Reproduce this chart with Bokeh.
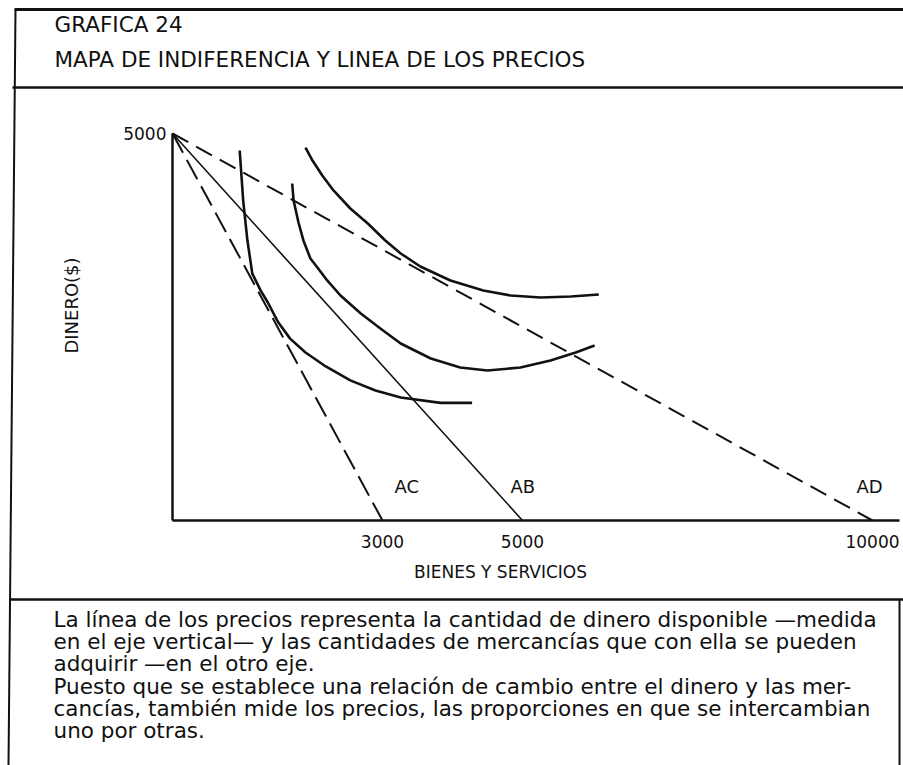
import math
from bokeh.plotting import figure
from bokeh.models import Range1d, LinearAxis, FixedTicker
from bokeh.core.properties import value
from bokeh.embed import file_html
from bokeh.resources import INLINE

# ---------------- data ----------------
budget_names = ["AC", "AB", "AD"]
budget_money = [5000, 5000, 5000]          # intercept on the money axis
budget_goods = [3000, 5000, 10000]         # intercept on the goods axis
budget_dash = ["22 8", "solid", "18 9"]

x_ticks = [3000, 5000, 10000]
y_ticks = [5000]

# indifference curves (goods, money)
curve1_x = [960, 1010, 1070, 1140, 1260, 1360, 1510, 1680, 1900, 2190, 2540, 2900, 3260, 3830, 4280]
curve1_y = [4780, 4130, 3620, 3190, 2970, 2820, 2560, 2350, 2170, 1990, 1810, 1680, 1590, 1520, 1520]

curve2_x = [1710, 1730, 1800, 1870, 1970, 2070, 2210, 2400, 2690, 2970, 3260, 3690, 4110, 4500, 4970, 5400, 5760, 6030]
curve2_y = [4354, 4134, 3850, 3618, 3385, 3269, 3101, 2907, 2674, 2481, 2287, 2093, 1977, 1938, 1977, 2067, 2171, 2261]

curve3_x = [1900, 2000, 2140, 2300, 2540, 2790, 3040, 3260, 3540, 3970, 4440, 4830, 5260, 5690, 6090]
curve3_y = [4819, 4651, 4457, 4264, 4031, 3837, 3618, 3450, 3282, 3101, 2972, 2907, 2881, 2894, 2920]

title_lines = ["GRAFICA 24", "MAPA DE INDIFERENCIA Y LINEA DE LOS PRECIOS"]
note_lines = [
    "La línea de los precios representa la cantidad de dinero disponible —medida",
    "en el eje vertical— y las cantidades de mercancías que con ella se pueden",
    "adquirir —en el otro eje.",
    "Puesto que se establece una relación de cambio entre el dinero y las mer-",
    "cancías, también mide los precios, las proporciones en que se intercambian",
    "uno por otras.",
]
x_label = "BIENES Y SERVICIOS"
y_label = "DINERO($)"

# ---------------- layout ----------------
W, H = 903, 765
ORIGIN_PX, ORIGIN_PY = 172, 520      # page pixels of (0, 0)
PX_PER_X, PX_PER_Y = 0.0700, 0.0774


def dx(px):
    return (px - ORIGIN_PX) / PX_PER_X


def dy(py):
    return (ORIGIN_PY - py) / PX_PER_Y


FONT = value("DejaVu Sans")
INK = "#111111"

p = figure(width=W, height=H,
           x_range=Range1d(dx(0), dx(W)),
           y_range=Range1d(dy(H), dy(0)),
           output_backend="svg", toolbar_location=None,
           x_axis_location=None, y_axis_location=None,
           min_border=0, outline_line_color=None,
           background_fill_color="white", border_fill_color="white")
p.xgrid.grid_line_color = None
p.ygrid.grid_line_color = None

# frame decoration
p.line([dx(14), dx(W)], [dy(9), dy(9)], line_color=INK, line_width=3)
p.line([dx(12), dx(W)], [dy(87), dy(87)], line_color=INK, line_width=2.5)
p.line([dx(9), dx(W)], [dy(599), dy(599)], line_color=INK, line_width=2.5)
p.line([dx(15), dx(8)], [dy(9), dy(H)], line_color=INK, line_width=2)
p.line([dx(899), dx(899)], [dy(599), dy(H)], line_color=INK, line_width=2)

# axes
axis_style = dict(axis_line_color=INK, axis_line_width=2.5,
                  major_tick_line_color=None, minor_tick_line_color=None,
                  major_tick_in=0, major_tick_out=0,
                  minor_tick_in=0, minor_tick_out=0,
                  major_label_text_font="DejaVu Sans",
                  major_label_text_font_size="17px",
                  major_label_text_color=INK)
xax = LinearAxis(fixed_location=0, bounds=(0, dx(899)),
                 ticker=FixedTicker(ticks=x_ticks),
                 major_label_standoff=14, **axis_style)
p.add_layout(xax, "below")
yax = LinearAxis(fixed_location=0, bounds=(0, 5000),
                 ticker=FixedTicker(ticks=y_ticks),
                 major_label_standoff=6, **axis_style)
p.add_layout(yax, "left")

# budget (price) lines
for name, m, g, dash in zip(budget_names, budget_money, budget_goods, budget_dash):
    p.segment(x0=[0], y0=[m], x1=[g], y1=[0], line_color=INK,
              line_width=2 if dash != "solid" else 1.6, line_dash=dash)

p.text(x=budget_goods, y=[dy(486)] * 3, text=budget_names,
       x_offset=[12, -12, -16], text_align="left", text_baseline="middle",
       text_font=FONT, text_font_size=value("18px"), text_color=INK)

# indifference curves
for cx, cy in [(curve1_x, curve1_y), (curve2_x, curve2_y), (curve3_x, curve3_y)]:
    p.line(cx, cy, line_color=INK, line_width=2.6)

# axis titles
p.text(x=[dx(500)], y=[dy(571)], text=[x_label], text_align="center",
       text_baseline="middle", text_font=FONT, text_font_size=value("17px"),
       text_color=INK)
p.text(x=[dx(71)], y=[dy(305)], text=[y_label], angle=math.pi / 2,
       text_align="center", text_baseline="middle", text_font=FONT,
       text_font_size=value("18px"), text_color=INK)

# title block
p.text(x=[dx(54)] * 2, y=[dy(24), dy(59)], text=title_lines, text_align="left",
       text_baseline="middle", text_font=FONT, text_font_size=value("21.5px"),
       text_color=INK)

# explanatory note
note_y = [dy(619 + 22.2 * i) for i in range(len(note_lines))]
p.text(x=[dx(53)] * len(note_lines), y=note_y, text=note_lines, text_align="left",
       text_baseline="middle", text_font=FONT, text_font_size=value("21.5px"),
       text_color=INK)

open("out.html", "w").write(file_html(p, INLINE))
